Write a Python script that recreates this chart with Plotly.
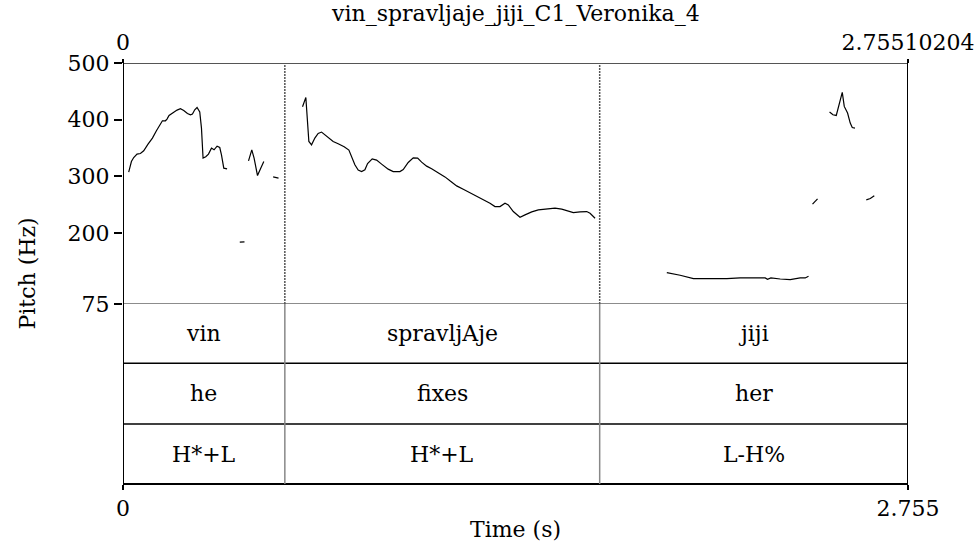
import plotly.graph_objects as go

# ---------------- data ----------------
title_text = "vin_spravljaje_jiji_C1_Veronika_4"
t_start = 0.0
t_end = 2.75510204
pitch_min = 75
pitch_max = 500
pitch_ticks = [75, 200, 300, 400, 500]

# interval boundaries (s) shared by all three tiers
boundaries = [0.0, 0.568, 1.673, 2.75510204]
tier_words = ["vin", "spravljAje", "jiji"]
tier_gloss = ["he", "fixes", "her"]
tier_tones = ["H*+L", "H*+L", "L-H%"]

# pitch contour segments (time s, F0 Hz)
seg1_t = [0.020, 0.0295, 0.0376, 0.0492, 0.0611, 0.0727, 0.0878, 0.1033, 0.1173, 0.1314,
          0.1384, 0.1489, 0.1545, 0.1616, 0.1756, 0.1897, 0.2016, 0.2132, 0.2262, 0.2367,
          0.2438, 0.2518, 0.2599, 0.2694, 0.2754, 0.2810, 0.2905, 0.3000, 0.3105, 0.3196,
          0.3302, 0.3396, 0.3456, 0.3537, 0.3653]
seg1_f = [307.5, 326.3, 333.3, 339.3, 340.4, 345.1, 357.0, 367.6, 380.5, 393.4,
          398.1, 398.1, 401.1, 407.5, 412.2, 417.0, 419.3, 416.3, 411.0, 408.7,
          410.0, 417.5, 421.6, 413.5, 385.2, 332.3, 334.6, 339.3, 349.9, 346.9,
          353.4, 351.0, 338.1, 314.6, 313.4]
seg2_t = [0.4405, 0.4520, 0.4601, 0.4721, 0.4826, 0.4942]
seg2_f = [327.5, 346.9, 332.3, 301.5, 313.4, 326.3]
seg3_t = [0.5269, 0.5458]
seg3_f = [299.2, 296.9]
seg4_t = [0.4099, 0.4264]
seg4_f = [184.0, 184.5]
seg5_t = [0.6301, 0.6417, 0.6523, 0.6617, 0.6733, 0.6849, 0.6969, 0.7060, 0.7200, 0.7376,
          0.7552, 0.7762, 0.7928, 0.8022, 0.8138, 0.8254, 0.8374, 0.8490, 0.8584, 0.8746,
          0.8900, 0.9076, 0.9308, 0.9483, 0.9719, 0.9835, 1.0010, 1.0186, 1.0341, 1.0481,
          1.0657, 1.0832, 1.1008, 1.1299, 1.1475, 1.1710, 1.1942, 1.2178, 1.2413, 1.2645,
          1.2880, 1.3055, 1.3231, 1.3407, 1.3523, 1.3698, 1.3934, 1.4109, 1.4345, 1.4576,
          1.4871, 1.5163, 1.5398, 1.5574, 1.5806, 1.6041, 1.6276, 1.6392, 1.6568]
seg5_f = [422.8, 439.3, 361.6, 355.7, 367.6, 375.7, 378.2, 374.6, 367.6, 361.6,
          357.5, 352.2, 346.4, 335.1, 320.4, 311.1, 308.6, 311.6, 322.7, 331.0,
          328.7, 321.7, 312.8, 308.6, 308.6, 312.1, 324.5, 332.8, 332.3, 325.2,
          318.1, 313.4, 308.6, 299.2, 292.2, 283.3, 277.5, 271.5, 265.7, 258.6,
          252.8, 246.8, 246.8, 252.8, 249.8, 238.0, 228.1, 232.1, 237.4, 241.0,
          242.7, 244.0, 242.2, 239.7, 236.2, 237.4, 238.0, 235.1, 226.3]
seg6_t = [1.9086, 1.9554, 2.0021, 2.0607, 2.1194, 2.1661, 2.2247, 2.2539, 2.2620, 2.2739,
          2.3066, 2.3417, 2.3768, 2.3944, 2.4060]
seg6_f = [130.3, 125.7, 119.7, 119.1, 119.7, 120.9, 121.4, 120.9, 118.6, 120.9,
          119.1, 117.9, 120.9, 120.9, 123.9]
seg7_t = [2.4200, 2.4376]
seg7_f = [251.0, 260.4]
seg8_t = [2.4798, 2.4917, 2.5033, 2.5149, 2.5244, 2.5314, 2.5430, 2.5524, 2.5595, 2.5690]
seg8_f = [413.5, 408.7, 407.5, 429.4, 448.1, 423.4, 411.7, 394.1, 386.3, 385.2]
seg9_t = [2.6087, 2.6227, 2.6368]
seg9_f = [258.6, 260.9, 265.7]

segments = [(seg1_t, seg1_f), (seg2_t, seg2_f), (seg3_t, seg3_f), (seg4_t, seg4_f),
            (seg5_t, seg5_f), (seg6_t, seg6_f), (seg7_t, seg7_f), (seg8_t, seg8_f),
            (seg9_t, seg9_f)]

# ---------------- layout geometry ----------------
W, H = 979, 550
ML, MR, MT, MB = 123, 71, 63, 66
plot_h = H - MT - MB
pitch_bottom_px = 304
tier_lines_px = [363.3, 424.0]
p_bot = (H - MB - pitch_bottom_px) / plot_h          # paper y of pitch bottom
tier_edges = [p_bot] + [(H - MB - v) / plot_h for v in tier_lines_px] + [0.0]

FONT = "DejaVu Serif"
FS = 22

xs, ys = [], []
for t, f in segments:
    xs += list(t) + [None]
    ys += list(f) + [None]

fig = go.Figure()
fig.add_trace(go.Scatter(x=xs, y=ys, mode="lines", line=dict(color="black", width=1.2),
                         connectgaps=False, hoverinfo="skip", showlegend=False))
fig.add_trace(go.Scatter(x=[t_start], y=[None], xaxis="x2", yaxis="y",
                         mode="markers", showlegend=False, hoverinfo="skip"))

shapes = []
# pitch area borders
shapes.append(dict(type="line", xref="x", yref="y", x0=t_start, x1=t_end, y0=pitch_max, y1=pitch_max,
                   line=dict(color="#555555", width=2)))
shapes.append(dict(type="line", xref="x", yref="y", x0=t_start, x1=t_end, y0=pitch_min, y1=pitch_min,
                   line=dict(color="#666666", width=1.3)))
# tier lines
for e in tier_edges[1:-1]:
    shapes.append(dict(type="line", xref="x", yref="paper", x0=t_start, x1=t_end, y0=e, y1=e,
                       line=dict(color="black", width=1.5)))
shapes.append(dict(type="line", xref="x", yref="paper", x0=t_start, x1=t_end, y0=0, y1=0,
                   line=dict(color="black", width=2)))
# left / right frame lines
for xv in (t_start, t_end):
    shapes.append(dict(type="line", xref="x", yref="paper", x0=xv, x1=xv, y0=0, y1=1,
                       line=dict(color="black", width=2)))
# interior boundaries
for b in boundaries[1:-1]:
    shapes.append(dict(type="line", xref="x", yref="y", x0=b, x1=b, y0=pitch_min, y1=pitch_max,
                       line=dict(color="#555555", width=1.5, dash="2px,1px")))
    shapes.append(dict(type="line", xref="x", yref="paper", x0=b, x1=b, y0=0, y1=p_bot,
                       line=dict(color="#888888", width=1.5)))

annotations = []
for row, labels in enumerate([tier_words, tier_gloss, tier_tones]):
    yc = (tier_edges[row] + tier_edges[row + 1]) / 2
    for i, lab in enumerate(labels):
        xc = (boundaries[i] + boundaries[i + 1]) / 2
        annotations.append(dict(x=xc, y=yc, xref="x", yref="paper", text=lab, showarrow=False,
                                font=dict(family=FONT, size=FS, color="black"),
                                xanchor="center", yanchor="middle"))
annotations.append(dict(x=0.5, y=(H - MB - 13) / plot_h, xref="paper", yref="paper",
                        text=title_text, showarrow=False, xanchor="center", yanchor="middle",
                        font=dict(family=FONT, size=FS, color="black")))
annotations.append(dict(x=0.5, y=(H - MB - 529) / plot_h, xref="paper", yref="paper",
                        text="Time (s)", showarrow=False, xanchor="center", yanchor="middle",
                        font=dict(family=FONT, size=FS, color="black")))
annotations.append(dict(x=(27 - ML) / (W - ML - MR), y=0.5, xref="paper", yref="paper",
                        text="Pitch (Hz)", showarrow=False, textangle=-90,
                        xanchor="center", yanchor="middle",
                        font=dict(family=FONT, size=FS, color="black")))

fig.update_layout(
    width=W, height=H,
    margin=dict(l=ML, r=MR, t=MT, b=MB, pad=0, autoexpand=False),
    paper_bgcolor="white", plot_bgcolor="white",
    showlegend=False,
    font=dict(family=FONT, size=FS, color="black"),
    xaxis=dict(range=[t_start, t_end], anchor="free", position=0, showgrid=False, zeroline=False,
               showline=False, tickmode="array", tickvals=[t_start, 2.755], ticktext=["0", "2.755"],
               ticks="outside", ticklen=5, tickwidth=2, tickcolor="black", automargin=False,
               tickfont=dict(family=FONT, size=FS, color="black")),
    xaxis2=dict(range=[t_start, t_end], overlaying="x", side="top", anchor="free", position=1,
                showgrid=False, zeroline=False, showline=False, tickmode="array",
                tickvals=[t_start, t_end], ticktext=["0", "2.75510204"], automargin=False,
                ticks="outside", ticklen=4, tickwidth=2, tickcolor="black",
                tickfont=dict(family=FONT, size=FS, color="black")),
    yaxis=dict(range=[pitch_min, pitch_max], domain=[p_bot, 1], showgrid=False, zeroline=False,
               showline=False, tickmode="array", tickvals=pitch_ticks, automargin=False,
               ticks="outside", ticklen=8, tickwidth=1.5, tickcolor="black",
               tickfont=dict(family=FONT, size=FS, color="black")),
    shapes=shapes,
    annotations=annotations,
)

# remove the default 8 px page margin so the figure starts at the window corner
fig.write_html("out.html", config={"displayModeBar": False},
               post_script="document.body.style.margin='0';")
